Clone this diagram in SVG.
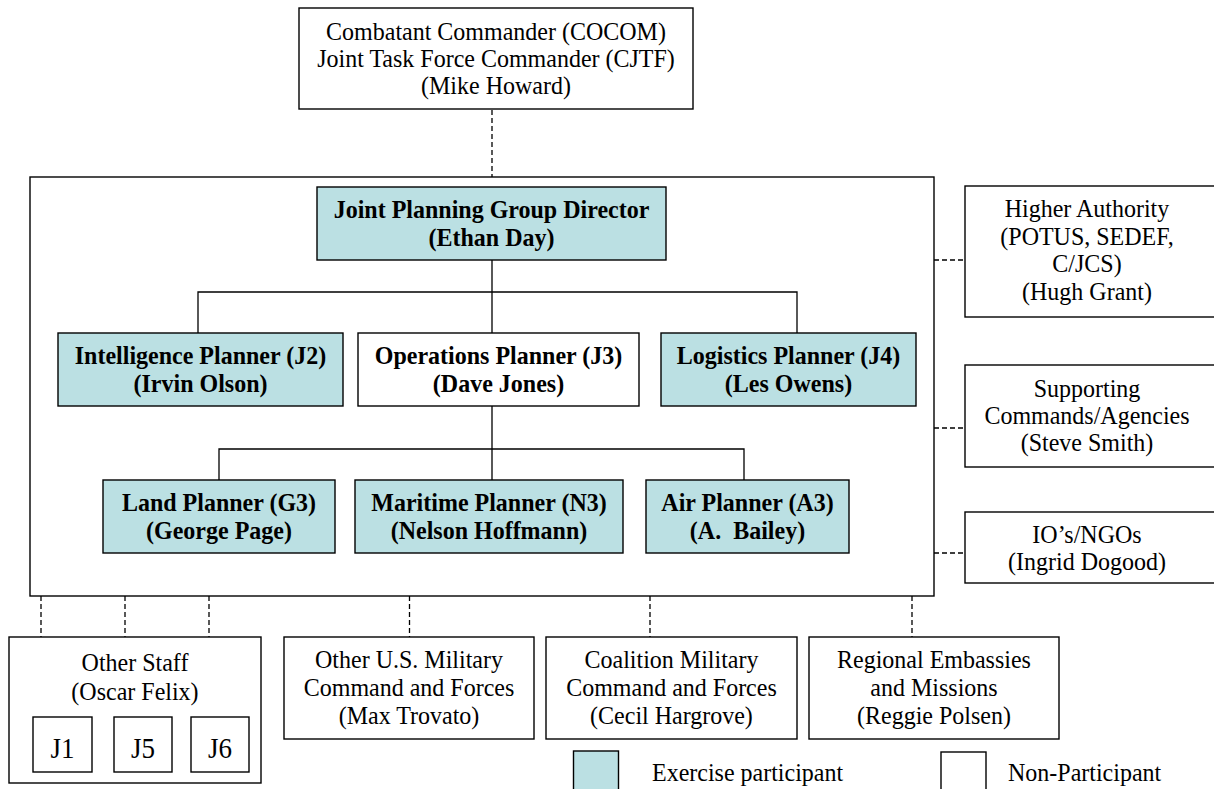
<svg xmlns="http://www.w3.org/2000/svg" width="1214" height="789" viewBox="0 0 1214 789">
<style>
.box{fill:#fff;stroke:#000;stroke-width:1.4}
.p{fill:#bbe0e3;stroke:#000;stroke-width:1.4}
.t{font-family:"Liberation Serif","Times New Roman",serif;font-size:24px;fill:#000;text-anchor:middle;transform-box:fill-box;transform-origin:center;transform:scaleY(1.06)}
.b{font-weight:bold}
.ln{fill:none;stroke:#000;stroke-width:1.3}
.dl{fill:none;stroke:#000;stroke-width:1.3;stroke-dasharray:5,3}
</style>
<rect width="1214" height="789" fill="#fff"/>
<g id="jpg"><rect class="box" x="30" y="177" width="904" height="419"/></g>
<g id="connectors">
<path class="dl" d="M492,110V177"/>
<path class="ln" d="M492,260V333M198,333V292H797V333M492,406V480M219,480V449H744V480"/>
<path class="dl" d="M934,260H965M934,428H965M934,553H965"/>
<path class="dl" d="M41,596V637M125,596V637M209,596V637M409.5,596V637M650,596V637M912,596V637"/>
</g>
<g id="cocom"><rect class="box" x="299" y="8" width="394" height="101"/>
<text class="t" x="496" y="40">Combatant Commander (COCOM)</text>
<text class="t" x="496" y="67">Joint Task Force Commander (CJTF)</text>
<text class="t" x="496" y="94">(Mike Howard)</text></g>
<g id="director"><rect class="p" x="317" y="187" width="349" height="73"/>
<text class="t b" x="491.5" y="217.5">Joint Planning Group Director</text>
<text class="t b" x="491.5" y="245.5">(Ethan Day)</text></g>
<g id="j2"><rect class="p" x="58" y="333" width="285" height="73"/>
<text class="t b" x="200.5" y="363.5">Intelligence Planner (J2)</text>
<text class="t b" x="200.5" y="391.5">(Irvin Olson)</text></g>
<g id="j3"><rect class="box" x="358" y="333" width="281" height="73"/>
<text class="t b" x="498.5" y="363.5">Operations Planner (J3)</text>
<text class="t b" x="498.5" y="391.5">(Dave Jones)</text></g>
<g id="j4"><rect class="p" x="661" y="333" width="255" height="73"/>
<text class="t b" x="788.5" y="363.5">Logistics Planner (J4)</text>
<text class="t b" x="788.5" y="391.5">(Les Owens)</text></g>
<g id="g3"><rect class="p" x="103" y="480" width="232" height="73"/>
<text class="t b" x="219" y="510.5">Land Planner (G3)</text>
<text class="t b" x="219" y="538.5">(George Page)</text></g>
<g id="n3"><rect class="p" x="355" y="480" width="268" height="73"/>
<text class="t b" x="489" y="510.5">Maritime Planner (N3)</text>
<text class="t b" x="489" y="538.5">(Nelson Hoffmann)</text></g>
<g id="a3"><rect class="p" x="646" y="480" width="203" height="73"/>
<text class="t b" x="747.5" y="510.5">Air Planner (A3)</text>
<text class="t b" x="747.5" y="538.5">(A.&#160; Bailey)</text></g>
<g id="higher"><rect class="box" x="965" y="186" width="260" height="131"/>
<text class="t" x="1087" y="217">Higher Authority</text>
<text class="t" x="1087" y="245">(POTUS, SEDEF,</text>
<text class="t" x="1087" y="272">C/JCS)</text>
<text class="t" x="1087" y="300">(Hugh Grant)</text></g>
<g id="supporting"><rect class="box" x="965" y="365" width="260" height="102"/>
<text class="t" x="1087" y="397">Supporting</text>
<text class="t" x="1087" y="424">Commands/Agencies</text>
<text class="t" x="1087" y="451">(Steve Smith)</text></g>
<g id="ios"><rect class="box" x="965" y="512" width="260" height="71"/>
<text class="t" x="1087" y="543">IO’s/NGOs</text>
<text class="t" x="1087" y="570">(Ingrid Dogood)</text></g>
<g id="otherstaff"><rect class="box" x="9" y="637" width="252" height="146"/>
<text class="t" x="135" y="671">Other Staff</text>
<text class="t" x="135" y="700">(Oscar Felix)</text>
<rect class="box" x="33" y="717" width="59" height="55"/>
<rect class="box" x="114" y="717" width="58" height="55"/>
<rect class="box" x="191" y="717" width="58" height="55"/>
<text class="t" x="62.5" y="757" style="font-size:27px">J1</text>
<text class="t" x="143" y="757" style="font-size:27px">J5</text>
<text class="t" x="220" y="757" style="font-size:27px">J6</text></g>
<g id="otherus"><rect class="box" x="284" y="637" width="250" height="102"/>
<text class="t" x="409" y="668">Other U.S. Military</text>
<text class="t" x="409" y="696">Command and Forces</text>
<text class="t" x="409" y="724">(Max Trovato)</text></g>
<g id="coalition"><rect class="box" x="546" y="637" width="251" height="102"/>
<text class="t" x="671.5" y="668">Coalition Military</text>
<text class="t" x="671.5" y="696">Command and Forces</text>
<text class="t" x="671.5" y="724">(Cecil Hargrove)</text></g>
<g id="embassies"><rect class="box" x="809" y="637" width="250" height="102"/>
<text class="t" x="934" y="668">Regional Embassies</text>
<text class="t" x="934" y="696">and Missions</text>
<text class="t" x="934" y="724">(Reggie Polsen)</text></g>
<g id="legend">
<rect class="p" x="573.5" y="751" width="45" height="45"/>
<text class="t" x="652" y="781" style="text-anchor:start">Exercise participant</text>
<rect class="box" x="941" y="752" width="45" height="45"/>
<text class="t" x="1008" y="781" style="text-anchor:start">Non-Participant</text>
</g>
</svg>
